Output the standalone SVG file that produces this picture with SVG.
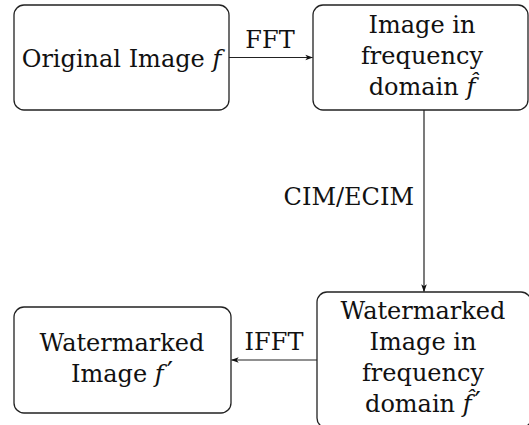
<svg xmlns="http://www.w3.org/2000/svg" width="529" height="425" viewBox="0 0 529 425">
<defs>
<style>
.box{fill:#fff;stroke:#222;stroke-width:1.3}
.t{font-family:"DejaVu Serif",serif;font-size:24px;fill:#111;text-anchor:middle}
.i{font-style:italic}
.p{font-family:"DejaVu Sans",sans-serif;font-style:normal;font-size:28px}
.c{stroke:#222;stroke-width:1.2;fill:none}
</style>
<marker id="ah" viewBox="0 0 10 10" refX="9" refY="5" markerWidth="8" markerHeight="8" markerUnits="userSpaceOnUse" orient="auto">
<path d="M0,1.5 L10,5 L0,8.5 L2.5,5 Z" fill="#111"/>
</marker>
</defs>
<rect width="529" height="425" fill="#fff"/>
<g id="connectors">
<line class="c" x1="229" y1="57.5" x2="312.5" y2="57.5" marker-end="url(#ah)"/>
<text class="t" x="270" y="48">FFT</text>
<line class="c" x1="424" y1="110" x2="424" y2="291.5" marker-end="url(#ah)"/>
<text class="t" x="414" y="205" style="text-anchor:end">CIM/ECIM</text>
<line class="c" x1="317" y1="360" x2="231.5" y2="360" marker-end="url(#ah)"/>
<text class="t" x="274" y="350">IFFT</text>
</g>
<g id="original">
<rect class="box" x="14" y="5" width="215" height="105" rx="10"/>
<text class="t" x="121.5" y="67">Original Image <tspan class="i">f</tspan></text>
</g>
<g id="freq">
<rect class="box" x="313" y="5" width="215" height="105" rx="10"/>
<text class="t" x="422" y="33">Image in</text>
<text class="t" x="422" y="64">frequency</text>
<text class="t" x="422" y="95">domain <tspan class="i">f̂</tspan></text>
</g>
<g id="wmfreq">
<rect class="box" x="317" y="292" width="214" height="136" rx="10"/>
<text class="t" x="423" y="319">Watermarked</text>
<text class="t" x="423" y="350">Image in</text>
<text class="t" x="423" y="381">frequency</text>
<text class="t" x="423" y="412">domain <tspan class="i">f̂</tspan><tspan class="p" dx="3">′</tspan></text>
</g>
<g id="wm">
<rect class="box" x="14" y="307" width="217" height="106" rx="10"/>
<text class="t" x="122" y="351">Watermarked</text>
<text class="t" x="122" y="382">Image <tspan class="i">f</tspan><tspan class="p" dx="3">′</tspan></text>
</g>
</svg>
